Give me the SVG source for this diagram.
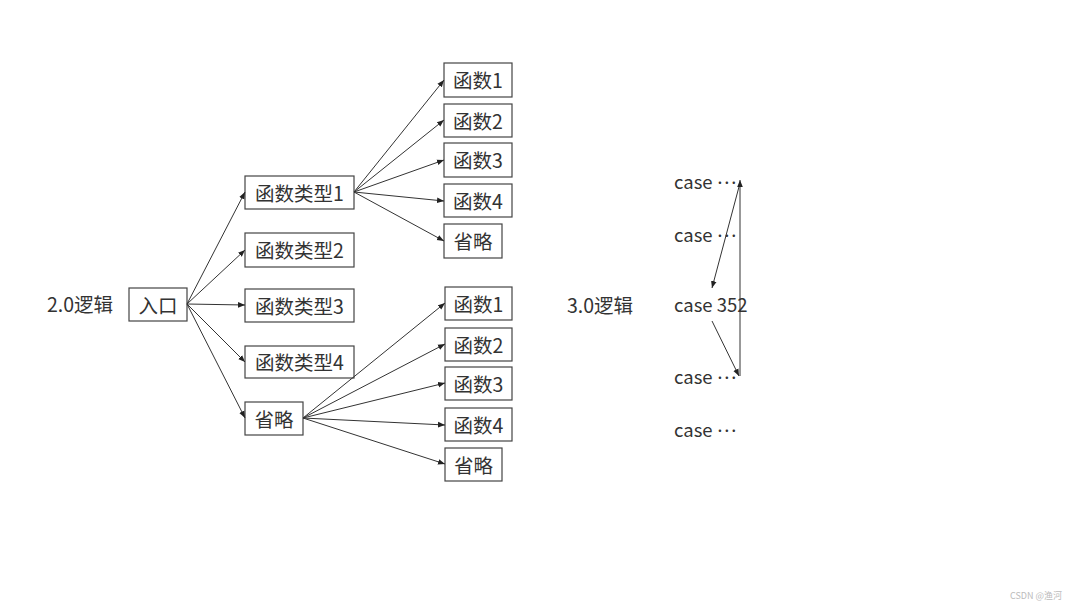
<svg xmlns="http://www.w3.org/2000/svg" width="1080" height="608" viewBox="0 0 1080 608">
<defs>
<marker id="ah" viewBox="0 0 10 10" refX="10" refY="5" markerWidth="7" markerHeight="7" markerUnits="userSpaceOnUse" orient="auto">
<path d="M0,1 L10,5 L0,9 z" fill="#222"/>
</marker>
</defs>
<style>
text{font-family:"Noto Sans CJK SC","Noto Sans",sans-serif;fill:#333;dominant-baseline:central}
.b{fill:#fff;stroke:#444;stroke-width:1.2}
.t{font-size:19.5px}
.c{font-size:18.5px}
.e{stroke:#333;stroke-width:1;fill:none;marker-end:url(#ah)}
.wm{font-size:9px;fill:#bbb}
</style>
<rect width="1080" height="608" fill="#fff"/>
<text class="t" x="47" y="303">2.0逻辑</text>
<text class="t" x="567" y="304">3.0逻辑</text>
<g id="n-entry"><rect class="b" x="129" y="288" width="58" height="33"/><text class="t" x="158" y="304" text-anchor="middle">入口</text></g>
<g id="n-t1"><rect class="b" x="245" y="176" width="109" height="33"/><text class="t" x="299.5" y="192" text-anchor="middle">函数类型1</text></g>
<g id="n-t2"><rect class="b" x="245" y="233" width="109" height="34"/><text class="t" x="299.5" y="249.5" text-anchor="middle">函数类型2</text></g>
<g id="n-t3"><rect class="b" x="245" y="289" width="109" height="33"/><text class="t" x="299.5" y="305" text-anchor="middle">函数类型3</text></g>
<g id="n-t4"><rect class="b" x="245" y="346" width="109" height="32"/><text class="t" x="299.5" y="361.5" text-anchor="middle">函数类型4</text></g>
<g id="n-t5"><rect class="b" x="245" y="402" width="58" height="33"/><text class="t" x="274" y="418" text-anchor="middle">省略</text></g>
<g id="n-a1"><rect class="b" x="444" y="63" width="68" height="34"/><text class="t" x="478" y="79.5" text-anchor="middle">函数1</text></g>
<g id="n-a2"><rect class="b" x="444" y="104" width="68" height="33"/><text class="t" x="478" y="120" text-anchor="middle">函数2</text></g>
<g id="n-a3"><rect class="b" x="444" y="143" width="68" height="34"/><text class="t" x="478" y="159.5" text-anchor="middle">函数3</text></g>
<g id="n-a4"><rect class="b" x="444" y="184" width="68" height="33"/><text class="t" x="478" y="200" text-anchor="middle">函数4</text></g>
<g id="n-a5"><rect class="b" x="444" y="224" width="58" height="34"/><text class="t" x="473" y="240.5" text-anchor="middle">省略</text></g>
<g id="n-b1"><rect class="b" x="445" y="287" width="67" height="33"/><text class="t" x="478.5" y="303" text-anchor="middle">函数1</text></g>
<g id="n-b2"><rect class="b" x="445" y="328" width="67" height="33"/><text class="t" x="478.5" y="344" text-anchor="middle">函数2</text></g>
<g id="n-b3"><rect class="b" x="445" y="367" width="67" height="33"/><text class="t" x="478.5" y="383" text-anchor="middle">函数3</text></g>
<g id="n-b4"><rect class="b" x="445" y="408" width="67" height="33"/><text class="t" x="478.5" y="424" text-anchor="middle">函数4</text></g>
<g id="n-b5"><rect class="b" x="445" y="448" width="57" height="33"/><text class="t" x="473.5" y="464" text-anchor="middle">省略</text></g>
<g id="n-c1"><text class="c" x="674" y="181">case <tspan dy="-5">…</tspan></text></g>
<g id="n-c2"><text class="c" x="674" y="233.5">case <tspan dy="-5">…</tspan></text></g>
<g id="n-c3"><text class="c" x="674" y="303.5">case 352</text></g>
<g id="n-c4"><text class="c" x="674" y="375.5">case <tspan dy="-5">…</tspan></text></g>
<g id="n-c5"><text class="c" x="674" y="428.5">case <tspan dy="-5">…</tspan></text></g>
<g id="connectors">
<line class="e" x1="187" y1="304" x2="245" y2="192"/>
<line class="e" x1="187" y1="304" x2="245" y2="250"/>
<line class="e" x1="187" y1="304" x2="245" y2="305"/>
<line class="e" x1="187" y1="304" x2="245" y2="362"/>
<line class="e" x1="187" y1="304" x2="245" y2="418"/>
<line class="e" x1="354" y1="192" x2="444" y2="80"/>
<line class="e" x1="354" y1="192" x2="444" y2="120"/>
<line class="e" x1="354" y1="192" x2="444" y2="160"/>
<line class="e" x1="354" y1="192" x2="444" y2="201"/>
<line class="e" x1="354" y1="192" x2="444" y2="241"/>
<line class="e" x1="303" y1="418" x2="445" y2="303"/>
<line class="e" x1="303" y1="418" x2="445" y2="344"/>
<line class="e" x1="303" y1="418" x2="445" y2="383"/>
<line class="e" x1="303" y1="418" x2="445" y2="425"/>
<line class="e" x1="303" y1="418" x2="445" y2="464"/>
<line class="e" x1="740" y1="183" x2="712" y2="288"/>
<line class="e" x1="712" y1="321" x2="739" y2="376"/>
<line class="e" x1="740" y1="376" x2="740" y2="180"/>
</g>
<text class="wm" x="1010" y="595">CSDN @渔河</text>
</svg>
